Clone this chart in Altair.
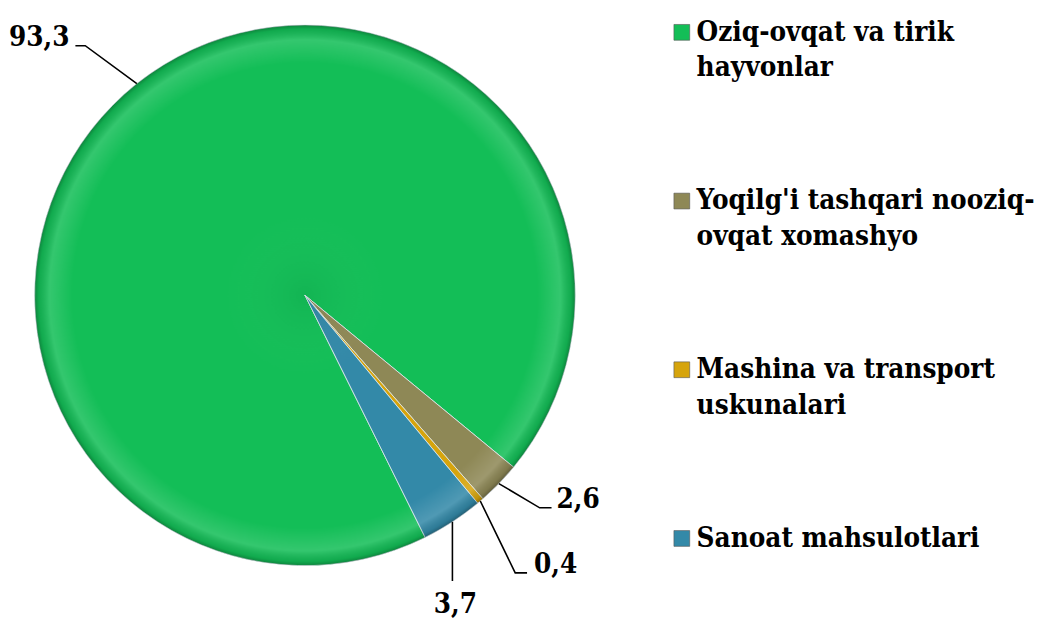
import math
import numpy as np
import pandas as pd
import altair as alt

# ---------------- data ----------------
categories = [
    "Oziq-ovqat va tirik hayvonlar",
    "Yoqilg'i tashqari nooziq-ovqat xomashyo",
    "Mashina va transport uskunalari",
    "Sanoat mahsulotlari",
]
legend_text = [
    "Oziq-ovqat va tirik\nhayvonlar",
    "Yoqilg'i tashqari nooziq-\novqat xomashyo",
    "Mashina va transport\nuskunalari",
    "Sanoat mahsulotlari",
]
values = [93.3, 2.6, 0.4, 3.7]
value_labels = ["93,3", "2,6", "0,4", "3,7"]
colors = ["#13BE57", "#8E8856", "#D6A40C", "#3389A8"]

# ---------------- layout / style ----------------
FONT = "DejaVu Serif Condensed"
START_DEG = 153.6          # first slice angle (clockwise from 12 o'clock)
R = 274                    # pie radius (px)
W, H = 594, 574            # pie view size
LEG_W = 420

# leader layout per slice: elbow radius, elbow angle shift, tail dx, tail dy, text dx, text dy, align
leader_layout = [
    (337, -2.9, -10, 0, -6, 0, "right"),
    (321, -2.0, 12, 0, 5, 0, "left"),
    (353, 3.3, 12, 0, 7, 0, "left"),
    (R, 0.0, 0, -60, 3, -32, "center"),
]

total = float(sum(values))
vals = np.array(values, dtype=float)
cum = np.cumsum(vals)
a0 = START_DEG + 360.0 * (cum - vals) / total
a1 = START_DEG + 360.0 * cum / total
mid = (a0 + a1) / 2.0


def polar(r, deg):
    t = math.radians(deg)
    return r * math.sin(t), r * math.cos(t)


line_rows, text_rows = [], []
for i, lab in enumerate(value_labels):
    er, dang, tdx, tdy, xdx, xdy, align = leader_layout[i]
    p0 = polar(R, mid[i])
    p1 = polar(er, mid[i] + dang)
    p2 = (p1[0] + tdx, p1[1] + tdy)
    for k, p in enumerate([p0, p1, p2]):
        line_rows.append({"label": lab, "pt": k, "x": p[0], "y": p[1]})
    text_rows.append({"label": lab, "x": p2[0] + xdx, "y": p2[1] + xdy, "align": align})

lines_df = pd.DataFrame(line_rows)
text_df = pd.DataFrame(text_rows)
pie_df = pd.DataFrame({"cat": categories, "value": values, "order": list(range(len(values)))})

xs = alt.Scale(domain=[-W / 2, W / 2], nice=False, zero=False)
ys = alt.Scale(domain=[-H / 2, H / 2], nice=False, zero=False)

theta_range = [math.radians(START_DEG), math.radians(START_DEG) + 2 * math.pi]

pie = alt.Chart(pie_df).mark_arc(
    outerRadius=R, stroke="#dfe9ee", strokeWidth=0.8
).encode(
    theta=alt.Theta("value:Q", stack=True, scale=alt.Scale(range=theta_range)),
    color=alt.Color("cat:N", scale=alt.Scale(domain=categories, range=colors), legend=None),
    order=alt.Order("order:Q"),
)

shade = alt.Chart(pd.DataFrame({"v": [1]})).mark_arc(
    outerRadius=R,
    fill={
        "gradient": "radial",
        "stops": [
            {"offset": 0.0, "color": "rgba(0,0,0,0.05)"},
            {"offset": 0.3, "color": "rgba(255,255,255,0)"},
            {"offset": 0.86, "color": "rgba(255,255,255,0)"},
            {"offset": 0.945, "color": "rgba(255,255,255,0.14)"},
            {"offset": 0.985, "color": "rgba(0,0,0,0.10)"},
            {"offset": 1.0, "color": "rgba(0,0,0,0.30)"},
        ],
    },
).encode(theta=alt.value(0), theta2=alt.value(2 * math.pi))

leaders = alt.Chart(lines_df).mark_line(color="black", strokeWidth=1.6).encode(
    x=alt.X("x:Q", scale=xs, axis=None),
    y=alt.Y("y:Q", scale=ys, axis=None),
    detail="label:N",
    order="pt:Q",
)

text_layers = []
for al in ["right", "left", "center"]:
    text_layers.append(
        alt.Chart(text_df).transform_filter(alt.datum.align == al).mark_text(
            align=al, baseline="alphabetic", font=FONT, fontWeight="bold",
            fontSize=28, color="black",
        ).encode(
            x=alt.X("x:Q", scale=xs, axis=None),
            y=alt.Y("y:Q", scale=ys, axis=None),
            text="label:N",
        )
    )

pie_chart = alt.layer(pie, shade, leaders, *text_layers).properties(width=W, height=H)

# ---------------- legend (drawn as marks) ----------------
leg_df = pd.DataFrame({"cat": categories, "txt": legend_text})
leg_y = alt.Y("cat:N", sort=categories, axis=None,
              scale=alt.Scale(type="point", range=[29, 542], padding=0))

leg_sq = alt.Chart(leg_df).mark_square(size=256, yOffset=-8.5, opacity=1,
                                       stroke="#555555", strokeWidth=0.6).encode(
    x=alt.value(83),
    y=leg_y,
    color=alt.Color("cat:N", scale=alt.Scale(domain=categories, range=colors), legend=None),
)
leg_tx = alt.Chart(leg_df).mark_text(
    align="left", baseline="alphabetic", font=FONT, fontWeight="bold", fontSize=28,
    lineBreak="\n", lineHeight=36, color="black",
).encode(
    x=alt.value(98),
    y=leg_y,
    text="txt:N",
)
legend_chart = alt.layer(leg_sq, leg_tx).properties(width=LEG_W, height=H)

chart = alt.hconcat(pie_chart, legend_chart, spacing=0).properties(
    padding=0
).configure_view(stroke=None).configure_concat(spacing=0)

chart.save("out.html", embed_options={"renderer": "svg", "actions": False})
